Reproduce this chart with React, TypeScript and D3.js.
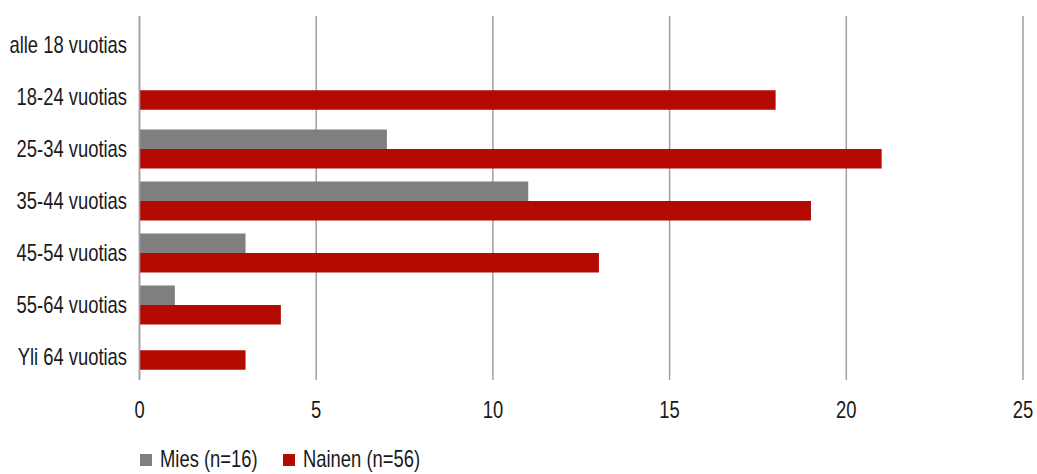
import React from "react";
import * as d3 from "d3";

const categories = [
  "alle 18 vuotias",
  "18-24 vuotias",
  "25-34 vuotias",
  "35-44 vuotias",
  "45-54 vuotias",
  "55-64 vuotias",
  "Yli 64 vuotias",
];
// null = no respondents in that group
const mies: (number | null)[] = [null, null, 7, 11, 3, 1, null];
const nainen: (number | null)[] = [null, 18, 21, 19, 13, 4, 3];
const xTicks = [0, 5, 10, 15, 20, 25];
const seriesNames = ["Mies (n=16)", "Nainen (n=56)"];
const seriesColors = ["#7f7f7f", "#b40a02"];

const W = 1037;
const H = 474;
const FONT = "'Liberation Sans', Arial, sans-serif";
const NARROW = 0.8; // horizontal squeeze for a condensed look

type LabelProps = {
  x: number;
  y: number;
  anchor?: "start" | "middle" | "end";
  size?: number;
  children: React.ReactNode;
};

function Label({ x, y, anchor = "start", size = 23, children }: LabelProps) {
  return (
    <text
      transform={`translate(${x},${y}) scale(${NARROW},1)`}
      textAnchor={anchor}
      dominantBaseline="central"
      fontSize={size}
      fill="#1a1a1a"
    >
      {children}
    </text>
  );
}

export default function App() {
  const x = d3.scaleLinear().domain([0, 25]).range([139.5, 1023]);
  const y = d3.scaleBand<string>().domain(categories).range([19, 383]);
  const gridTop = 16;
  const gridBottom = 380;
  const barH = 19.5;

  return (
    <svg
      width={W}
      height={H}
      style={{ position: "absolute", left: 0, top: 0, background: "#fff" }}
      fontFamily={FONT}
    >
      {/* vertical gridlines */}
      {xTicks.map((t) => (
        <line
          key={t}
          x1={x(t)}
          x2={x(t)}
          y1={gridTop}
          y2={gridBottom}
          stroke="#a0a0a0"
          strokeWidth={1.5}
        />
      ))}

      {/* bars */}
      {categories.map((c, i) => {
        const center = (y(c) ?? 0) + y.bandwidth() / 2;
        const m = mies[i];
        const n = nainen[i];
        const paired = m !== null;
        return (
          <g key={c}>
            {m !== null && m > 0 && (
              <rect
                x={x(0)}
                y={center - barH}
                width={x(m) - x(0)}
                height={barH}
                fill={seriesColors[0]}
              />
            )}
            {n !== null && n > 0 && (
              <rect
                x={x(0)}
                y={paired ? center : center - barH / 2 + 3}
                width={x(n) - x(0)}
                height={barH}
                fill={seriesColors[1]}
              />
            )}
          </g>
        );
      })}

      {/* value axis line at zero */}
      <line x1={x(0)} x2={x(0)} y1={gridTop} y2={gridBottom} stroke="#a0a0a0" strokeWidth={1.5} />

      {/* category labels */}
      {categories.map((c) => (
        <Label key={c} x={127} y={(y(c) ?? 0) + y.bandwidth() / 2} anchor="end">
          {c}
        </Label>
      ))}

      {/* x tick labels */}
      {xTicks.map((t) => (
        <Label key={t} x={x(t)} y={410} anchor="middle">
          {t}
        </Label>
      ))}

      {/* legend */}
      {seriesNames.map((s, i) => {
        const lx = i === 0 ? 140 : 283;
        return (
          <g key={s}>
            <rect x={lx} y={454} width={12} height={12} fill={seriesColors[i]} />
            <Label x={lx + 20} y={459} size={23}>
              {s}
            </Label>
          </g>
        );
      })}
    </svg>
  );
}
